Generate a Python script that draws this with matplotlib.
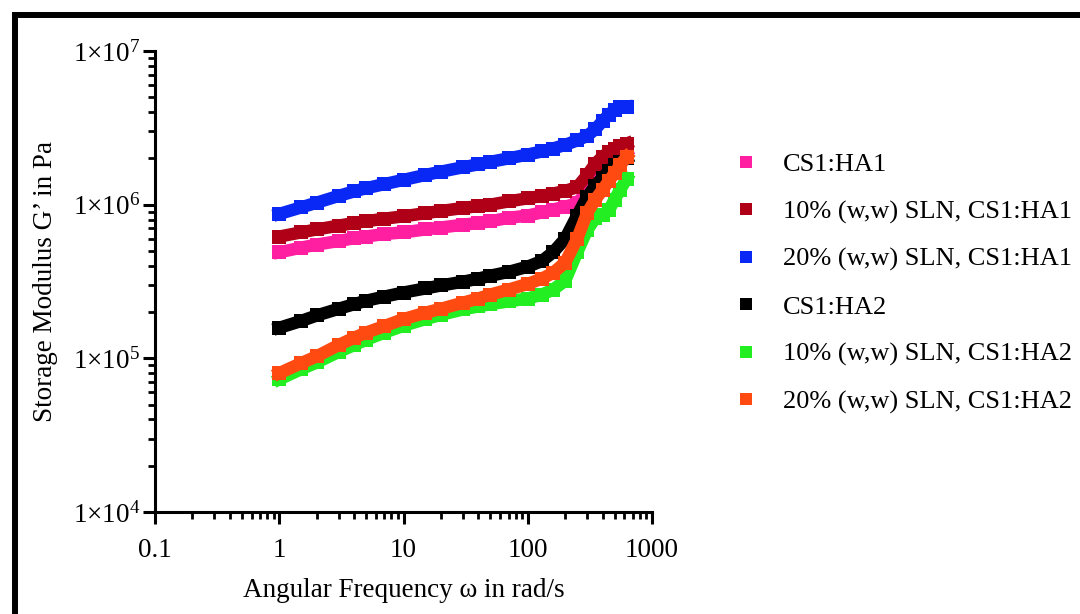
import numpy as np
import matplotlib
matplotlib.use("Agg")
import matplotlib.pyplot as plt
from matplotlib.lines import Line2D
from matplotlib.patches import Rectangle
from matplotlib.ticker import FixedLocator, LogLocator, FuncFormatter, NullFormatter

plt.rcParams['font.family'] = ['Liberation Serif', 'DejaVu Serif']
plt.rcParams['mathtext.fontset'] = 'custom'
plt.rcParams['mathtext.rm'] = 'Liberation Serif'

# angular frequency sweep (rad/s)
freq = [1, 1.5, 2, 3, 4, 5, 7, 10, 15, 20, 30, 40, 50, 70, 100, 130, 160,
        200, 250, 300, 350, 400, 450, 500, 550, 628]

cs_ha1 = [4.9e5, 5.25e5, 5.5e5, 5.8e5, 6.05e5, 6.2e5, 6.45e5, 6.6e5, 6.9e5, 7.1e5,
          7.4e5, 7.6e5, 7.8e5, 8.2e5, 8.5e5, 8.9e5, 9.3e5, 9.7e5, 1.02e6, 1.22e6,
          1.5e6, 1.76e6, 1.92e6, 2.05e6, 2.15e6, 2.25e6]
sln10_ha1 = [6.2e5, 6.6e5, 6.9e5, 7.3e5, 7.6e5, 7.8e5, 8.1e5, 8.4e5, 8.8e5, 9.1e5,
             9.5e5, 9.8e5, 1.0e6, 1.05e6, 1.1e6, 1.14e6, 1.18e6, 1.23e6, 1.3e6, 1.55e6,
             1.85e6, 2.05e6, 2.2e6, 2.32e6, 2.4e6, 2.5e6]
sln20_ha1 = [8.7e5, 9.6e5, 1.03e6, 1.14e6, 1.22e6, 1.28e6, 1.36e6, 1.45e6, 1.56e6, 1.64e6,
             1.75e6, 1.83e6, 1.9e6, 2.0e6, 2.12e6, 2.22e6, 2.32e6, 2.45e6, 2.62e6, 2.8e6,
             3.1e6, 3.5e6, 3.85e6, 4.15e6, 4.3e6, 4.35e6]
cs_ha2 = [1.58e5, 1.75e5, 1.9e5, 2.1e5, 2.25e5, 2.37e5, 2.52e5, 2.68e5, 2.85e5, 2.98e5,
          3.15e5, 3.3e5, 3.45e5, 3.65e5, 3.95e5, 4.3e5, 4.9e5, 6.0e5, 8.5e5, 1.12e6,
          1.33e6, 1.5e6, 1.65e6, 1.8e6, 1.9e6, 2.0e6]
sln10_ha2 = [7.3e4, 8.5e4, 9.4e4, 1.1e5, 1.22e5, 1.32e5, 1.47e5, 1.63e5, 1.8e5, 1.92e5,
             2.08e5, 2.18e5, 2.25e5, 2.35e5, 2.45e5, 2.6e5, 2.8e5, 3.2e5, 4.9e5, 6.8e5,
             8.2e5, 8.6e5, 9.2e5, 1.08e6, 1.24e6, 1.48e6]
sln20_ha2 = [8.0e4, 9.3e4, 1.03e5, 1.22e5, 1.36e5, 1.47e5, 1.62e5, 1.8e5, 1.98e5, 2.1e5,
             2.3e5, 2.45e5, 2.6e5, 2.8e5, 3.05e5, 3.3e5, 3.6e5, 4.2e5, 6.0e5, 8.8e5,
             1.08e6, 1.25e6, 1.43e6, 1.6e6, 1.8e6, 2.05e6]

labels = ["CS1:HA1", "10% (w,w) SLN, CS1:HA1", "20% (w,w) SLN, CS1:HA1",
          "CS1:HA2", "10% (w,w) SLN, CS1:HA2", "20% (w,w) SLN, CS1:HA2"]
colors = ["#ff1fa0", "#b00018", "#0a28f5", "#000000", "#22ee22", "#ff4a12"]
series = [cs_ha1, sln10_ha1, sln20_ha1, cs_ha2, sln10_ha2, sln20_ha2]

fig = plt.figure(figsize=(10.8, 6.14), dpi=100)
ax = fig.add_axes([155/1080, 1 - 512/614, (652 - 155)/1080, (512 - 51)/614])

for vals, c in zip(series, colors):
    ax.plot(freq, vals, color=c, lw=9, marker='s', ms=9.5, mec=c, mew=0,
            solid_joinstyle='miter')

ax.set_xscale('log')
ax.set_yscale('log')
ax.set_xlim(0.1, 1000)
ax.set_ylim(1e4, 1e7)

ax.xaxis.set_major_locator(FixedLocator([0.1, 1, 10, 100, 1000]))
ax.xaxis.set_major_formatter(FuncFormatter(lambda v, p: "%g" % v))
ax.xaxis.set_minor_locator(LogLocator(base=10, subs=np.arange(2, 10)))
ax.xaxis.set_minor_formatter(NullFormatter())
ax.yaxis.set_major_locator(FixedLocator([1e4, 1e5, 1e6, 1e7]))
ax.yaxis.set_major_formatter(FuncFormatter(
    lambda v, p: r"$\mathregular{1{\times}10^{%d}}$" % round(np.log10(v))))
ax.yaxis.set_minor_locator(LogLocator(base=10, subs=np.arange(2, 10)))
ax.yaxis.set_minor_formatter(NullFormatter())

for s in ['top', 'right']:
    ax.spines[s].set_visible(False)
for s in ['left', 'bottom']:
    ax.spines[s].set_linewidth(2.2)

ax.tick_params(which='major', direction='out', length=8.5, width=2.2, labelsize=19.5)
ax.tick_params(which='minor', direction='out', length=5, width=2.0)
ax.tick_params(axis='x', which='major', pad=10)
ax.tick_params(axis='y', which='major', pad=2)

ax.set_xlabel("Angular Frequency \u03c9 in rad/s", fontsize=19.5, labelpad=11)
ax.set_ylabel("Storage Modulus G\u2019 in Pa", fontsize=19.5, labelpad=11)

handles = [Line2D([], [], ls='none', marker='s', ms=8.5, color=c, mew=0) for c in colors]
ax.legend(handles, labels, loc='upper left', bbox_to_anchor=(722/1080, 1 - 142/614),
          bbox_transform=fig.transFigure, frameon=False, fontsize=19,
          handlelength=1.0, handletextpad=0.9, labelspacing=0.9, borderaxespad=0)

# black frame around the whole picture
fig.patches.append(Rectangle((14.5/1080, -0.2), 1.3, 1.2 - 15/614,
                             transform=fig.transFigure, fill=False,
                             edgecolor='black', lw=4.3, clip_on=False))

fig.savefig("out.png", dpi=100)
